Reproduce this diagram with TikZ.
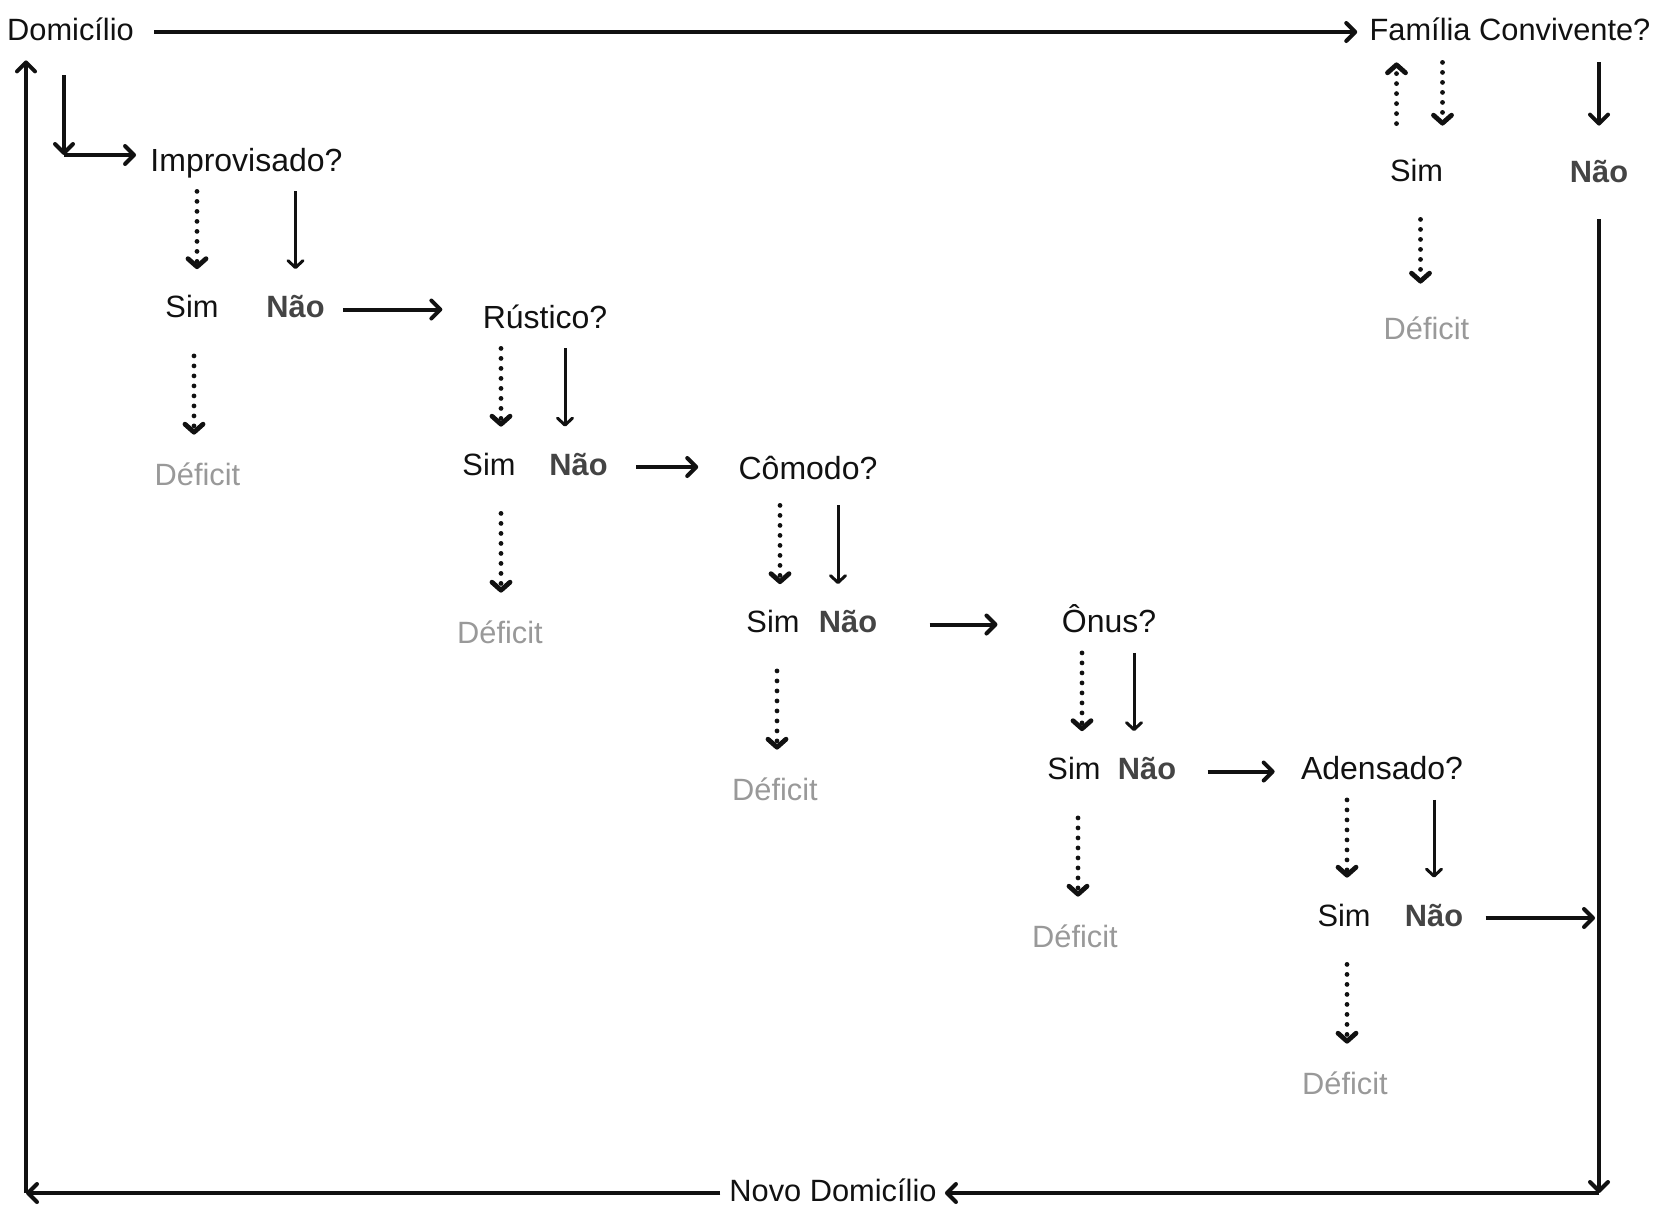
\documentclass[tikz,border=0pt]{standalone}
\usepackage{fontspec}
\setmainfont{Liberation Sans}
\usetikzlibrary{arrows.meta}
\definecolor{ink}{HTML}{111111}
\definecolor{naogray}{HTML}{444444}
\definecolor{defgray}{HTML}{999999}

\begin{document}
\begin{tikzpicture}[x=0.5pt, y=-0.5pt,
    txt/.style={inner sep=0pt, text height=11pt, text depth=3pt, text=ink, font=\fontsize{15.4}{18}\selectfont},
    quest/.style={txt, font=\fontsize{16}{19}\selectfont},
    nao/.style={txt, text=naogray, font=\fontsize{15.4}{18}\selectfont\bfseries},
    deficit/.style={txt, text=defgray},
    bigarr/.style={draw=ink, line width=2pt, -{Straight Barb[length=4.5pt,width=9pt,round]}},
    thinarr/.style={draw=ink, line width=1.5pt, -{Straight Barb[length=3.5pt,width=7.5pt,round]}},
    dotarr/.style={draw=ink, line width=2.4pt, line cap=round, dash pattern=on 0pt off 5pt, -{Straight Barb[length=4pt,width=9pt,round]}}]
    \useasboundingbox (0,-2) rectangle (1658,1220);

    \node[txt] (dom) at (70.5,30) {Domicílio};
    \node[txt] (fam) at (1510,30) {Família Convivente?};
    \draw[bigarr, shorten <=10pt, shorten >=6pt] (dom.east) -- (dom.east -| fam.west);

    \coordinate (elb) at (64,153);
    \coordinate (sw) at (26,1191);
    \coordinate (se) at (1599,1191);

    \node[quest] (imp) at (246.5,161) {Improvisado?};
    \draw[bigarr, shorten <=14.5pt] (elb |- dom.south) -- (elb);
    \draw[bigarr, shorten >=7pt] (elb) -- (elb -| imp.west);

    % improvisado
    \node[txt] (impsim) at (192,307.5) {Sim};
    \node[nao] (impnao) at (295.5,307.5) {Não};
    \node[deficit] (impdef) at (197.5,475) {Déficit};
    \draw[dotarr, shorten <=7pt, shorten >=13pt] ([xshift=2.5pt]impsim.north |- imp.south) -- ([xshift=2.5pt]impsim.north);
    \draw[thinarr, shorten <=7pt, shorten >=13pt] (impnao.north |- imp.south) -- (impnao.north);
    \draw[dotarr, shorten <=16pt, shorten >=14pt] ([xshift=1pt]impsim.south) -- ([xshift=1pt]impsim.south |- impdef.north);

    % rustico
    \node[quest] (rus) at (545,318) {Rústico?};
    \draw[bigarr, shorten <=9pt, shorten >=20pt] (impnao.east) -- (impnao.east -| rus.west);
    \node[txt] (russim) at (489,465) {Sim};
    \node[nao] (rusnao) at (578.5,465) {Não};
    \node[deficit] (rusdef) at (500,633) {Déficit};
    \draw[dotarr, shorten <=7pt, shorten >=13pt] ([xshift=6pt]russim.north |- rus.south) -- ([xshift=6pt]russim.north);
    \draw[thinarr, shorten <=7pt, shorten >=13pt] ([xshift=-6.75pt]rusnao.north |- rus.south) -- ([xshift=-6.75pt]rusnao.north);
    \draw[dotarr, shorten <=16pt, shorten >=14pt] ([xshift=6pt]russim.south) -- ([xshift=6pt]russim.south |- rusdef.north);

    % comodo
    \node[quest] (com) at (808,469) {Cômodo?};
    \draw[bigarr, shorten <=14pt, shorten >=20pt] (rusnao.east) -- (rusnao.east -| com.west);
    \node[txt] (comsim) at (773,622.5) {Sim};
    \node[nao] (comnao) at (848,622.5) {Não};
    \node[deficit] (comdef) at (775,790) {Déficit};
    \draw[dotarr, shorten <=10pt, shorten >=13pt] ([xshift=3.5pt]comsim.north |- com.south) -- ([xshift=3.5pt]comsim.north);
    \draw[thinarr, shorten <=10pt, shorten >=13pt] ([xshift=-5pt]comnao.north |- com.south) -- ([xshift=-5pt]comnao.north);
    \draw[dotarr, shorten <=16pt, shorten >=14pt] ([xshift=2pt]comsim.south) -- ([xshift=2pt]comsim.south |- comdef.north);

    % onus
    \node[quest] (onu) at (1109,622.5) {Ônus?};
    \draw[bigarr, shorten <=26pt, shorten >=32pt] (comnao.east) -- (comnao.east -| onu.west);
    \node[txt] (onusim) at (1074,769.5) {Sim};
    \node[nao] (onunao) at (1147,769.5) {Não};
    \node[deficit] (onudef) at (1075,937) {Déficit};
    \draw[dotarr, shorten <=7pt, shorten >=13pt] ([xshift=4pt]onusim.north |- onu.south) -- ([xshift=4pt]onusim.north);
    \draw[thinarr, shorten <=7pt, shorten >=13pt] ([xshift=-6.5pt]onunao.north |- onu.south) -- ([xshift=-6.5pt]onunao.north);
    \draw[dotarr, shorten <=16pt, shorten >=14pt] ([xshift=2pt]onusim.south) -- ([xshift=2pt]onusim.south |- onudef.north);

    % adensado
    \node[quest] (ade) at (1382,769.5) {Adensado?};
    \draw[bigarr, shorten <=15.5pt, shorten >=13pt] (onunao.east) -- (onunao.east -| ade.west);
    \node[txt] (adesim) at (1344,916) {Sim};
    \node[nao] (adenao) at (1434,916) {Não};
    \node[deficit] (adedef) at (1345,1084) {Déficit};
    \draw[dotarr, shorten <=7pt, shorten >=13pt] ([xshift=1.5pt]adesim.north |- ade.south) -- ([xshift=1.5pt]adesim.north);
    \draw[thinarr, shorten <=7pt, shorten >=13pt] (adenao.north |- ade.south) -- (adenao.north);
    \draw[dotarr, shorten <=16pt, shorten >=14pt] ([xshift=1.5pt]adesim.south) -- ([xshift=1.5pt]adesim.south |- adedef.north);
    \draw[bigarr, shorten <=11pt, shorten >=2pt] (adenao.east) -- (adenao.east -| se);

    % familia convivente
    \node[txt] (famsim) at (1416.5,171) {Sim};
    \node[nao] (famnao) at (1599,172) {Não};
    \node[deficit] (famdef) at (1426.5,329) {Déficit};
    \draw[dotarr, shorten <=17.5pt, shorten >=8pt] ([xshift=-10pt]famsim.north) -- ([xshift=-10pt]famsim.north |- fam.south);
    \draw[dotarr, shorten <=8pt, shorten >=16.5pt] ([xshift=13pt]famsim.north |- fam.south) -- ([xshift=13pt]famsim.north);
    \draw[dotarr, shorten <=16pt, shorten >=16.5pt] ([xshift=2pt]famsim.south) -- ([xshift=2pt]famsim.south |- famdef.north);
    \draw[bigarr, shorten <=8pt, shorten >=17pt] (famnao.north |- fam.south) -- (famnao.north);

    % back to the start
    \node[txt] (novo) at (833,1191) {Novo Domicílio};
    \draw[bigarr, shorten <=15.5pt] (famnao.south) -- (se);
    \draw[bigarr, shorten >=4pt] (se) -- (novo.east);
    \draw[bigarr, shorten <=4.3pt] (novo.west) -- (sw);
    \draw[bigarr, shorten >=7pt] (sw) -- (sw |- dom.south);
\end{tikzpicture}
\end{document}
